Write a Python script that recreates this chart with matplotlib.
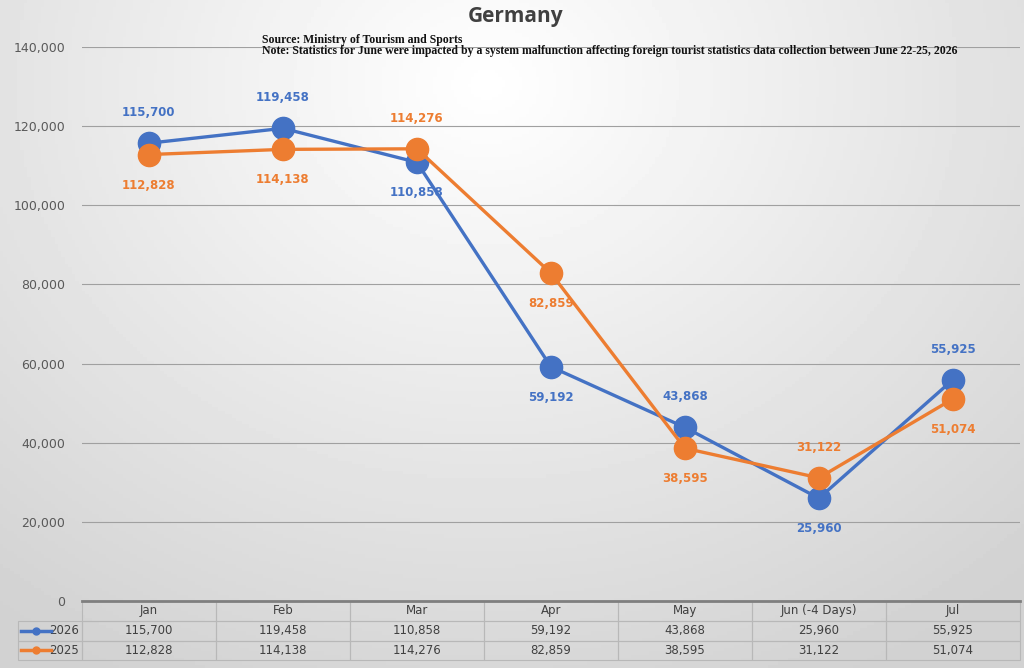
import numpy as np
import matplotlib.pyplot as plt
from matplotlib.lines import Line2D
from matplotlib.table import Table

months = ["Jan", "Feb", "Mar", "Apr", "May", "Jun (-4 Days)", "Jul"]
y2026 = [115700, 119458, 110858, 59192, 43868, 25960, 55925]
y2025 = [112828, 114138, 114276, 82859, 38595, 31122, 51074]
# +1 = label above the point, -1 = below
pos2026 = [1, 1, -1, -1, 1, -1, 1]
pos2025 = [-1, -1, 1, -1, -1, 1, -1]

blue = "#4472C4"
orange = "#ED7D31"

fig = plt.figure(figsize=(10.24, 6.68), dpi=100)

# light radial gradient background, brightest near the top centre
bg = fig.add_axes([0, 0, 1, 1], zorder=-10)
gx, gy = np.meshgrid(np.linspace(-1, 1, 300), np.linspace(-1, 1, 200))
r = np.sqrt(((gx + 0.05) / 1.4) ** 2 + ((gy - 0.75) / 1.8) ** 2)
bg.imshow(1 - 0.16 * np.clip(r, 0, 1.1), cmap="gray", vmin=0, vmax=1,
          aspect="auto", extent=[0, 1, 0, 1], origin="lower")
bg.axis("off")

ax = fig.add_axes([0.080, 0.1003, 0.916, 0.8293])
ax.set_facecolor("none")
x = np.arange(len(months))

ax.plot(x, y2026, color=blue, lw=2.4, marker="o", ms=16, zorder=4)
ax.plot(x, y2025, color=orange, lw=2.4, marker="o", ms=16, zorder=5)

for xi, v, p in zip(x, y2026, pos2026):
    ax.annotate(f"{v:,}", (xi, v), xytext=(0, 22 * p), textcoords="offset points",
                ha="center", va="center", color=blue, fontsize=8.5,
                fontweight="bold", zorder=6)
for xi, v, p in zip(x, y2025, pos2025):
    ax.annotate(f"{v:,}", (xi, v), xytext=(0, 22 * p), textcoords="offset points",
                ha="center", va="center", color=orange, fontsize=8.5,
                fontweight="bold", zorder=6)

ax.set_xlim(-0.5, len(months) - 0.5)
ax.set_ylim(0, 140000)
ax.set_yticks(range(0, 140001, 20000))
ax.set_yticklabels([f"{t:,}" for t in range(0, 140001, 20000)])
ax.tick_params(axis="y", length=0, labelsize=9, labelcolor="#595959", pad=12)
ax.set_xticks([])
ax.grid(axis="y", color="#a0a0a0", lw=0.8)
ax.set_axisbelow(True)
for s in ["top", "right", "left"]:
    ax.spines[s].set_visible(False)
ax.spines["bottom"].set_color("#7f7f7f")
ax.spines["bottom"].set_linewidth(2)

# data table under the chart (axes coordinates)
lab_w = 0.068
tab_h = 0.107
row_h = tab_h / 3
col_w = 1 / len(months)
tbl = Table(ax, bbox=[-lab_w, -tab_h, 1 + lab_w, tab_h])
tbl.auto_set_font_size(False)
rows = [("2026", y2026), ("2025", y2025)]
for j, m in enumerate(months):
    tbl.add_cell(0, j + 1, col_w, row_h, text=m, loc="center", facecolor="none")
for i, (lab, vals) in enumerate(rows):
    tbl.add_cell(i + 1, 0, lab_w, row_h, text=lab, loc="right", facecolor="none")
    for j, v in enumerate(vals):
        tbl.add_cell(i + 1, j + 1, col_w, row_h, text=f"{v:,}", loc="center",
                     facecolor="none")
tbl.set_fontsize(8.5)
for (r_, c_), cell in tbl.get_celld().items():
    cell.set_edgecolor("#b8b8b8")
    cell.set_linewidth(0.8)
    cell.get_text().set_color("#404040")
    if c_ == 0:
        cell.PAD = 0.05
ax.add_table(tbl)

# legend keys in the row label cells
for row_y, col in [(-0.0535, blue), (-0.089, orange)]:
    ax.add_line(Line2D([-lab_w + 0.003, -lab_w + 0.035], [row_y, row_y],
                       transform=ax.transAxes, color=col, lw=2.5, clip_on=False))
    ax.plot([-lab_w + 0.019], [row_y], transform=ax.transAxes, marker="o",
            color=col, ms=5, clip_on=False)

fig.text(0.503, 0.975, "Germany", ha="center", va="center", fontsize=15,
         fontweight="bold", color="#404040", family="Open Sans")
fig.text(0.256, 0.940, "Source: Ministry of Tourism and Sports", fontsize=8.5,
         fontweight="bold", family="Liberation Serif", color="#111111", va="center")
fig.text(0.256, 0.923,
         "Note: Statistics for June were impacted by a system malfunction affecting "
         "foreign tourist statistics data collection between June 22-25, 2026",
         fontsize=8.5, fontweight="bold", family="Liberation Serif",
         color="#111111", va="center")

fig.savefig("out.png", dpi=100)
